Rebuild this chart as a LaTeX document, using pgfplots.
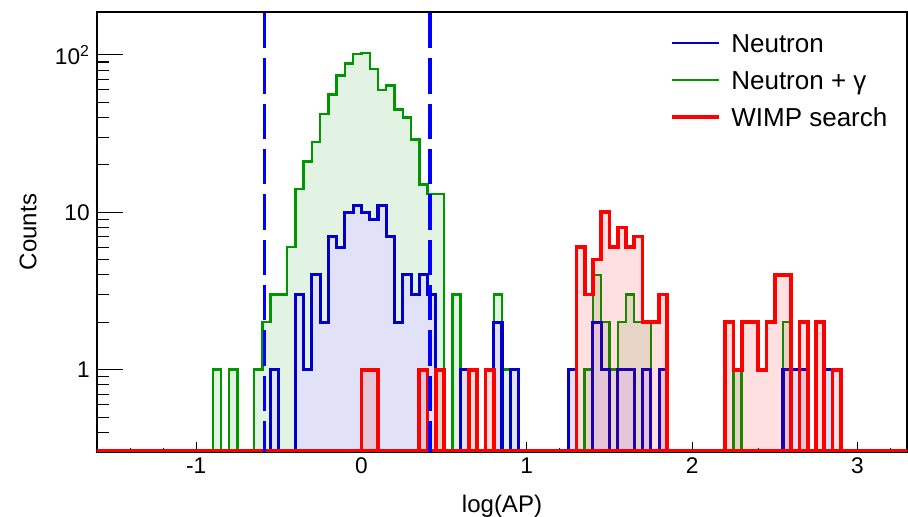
\documentclass[border=0pt]{standalone}
\usepackage{fontspec}
\setmainfont{Liberation Sans}
\usepackage{pgfplots}
\pgfplotsset{compat=1.18}
\definecolor{hblue}{RGB}{0,0,200}
\definecolor{hgreen}{RGB}{0,150,0}
\definecolor{hred}{RGB}{255,0,0}
\definecolor{gfill}{RGB}{227,243,227}
\definecolor{bfill}{RGB}{225,226,247}
\definecolor{dblue}{RGB}{0,0,255}

\begin{document}
\begin{tikzpicture}
\begin{axis}[
  at={(72.75pt,48.75pt)}, anchor=south west,
  scale only axis, width=607.5pt, height=330pt,
  ymode=log, xmin=-1.6, xmax=3.3, ymin=0.3, ymax=187,
  axis line style={black, line width=1pt},
  tick align=inside, xtick pos=bottom, ytick pos=left,
  xtick={-1,0,1,2,3}, xticklabels={-1,0,1,2,3},
  minor xtick={-1.4,-1.2,-0.8,-0.6,-0.4,-0.2,0.2,0.4,0.6,0.8,1.2,1.4,1.6,1.8,2.2,2.4,2.6,2.8,3.2},
  ytick={1,10,100}, yticklabels={1,10,10\textsuperscript{2}},
  minor ytick={0.3,0.4,0.5,0.6,0.7,0.8,0.9,2,3,4,5,6,7,8,9,20,30,40,50,60,70,80,90},
  xtick style={/pgfplots/major tick length=7.5pt, /pgfplots/minor tick length=2.8pt, black, line width=0.8pt},
  ytick style={/pgfplots/major tick length=19.5pt, /pgfplots/minor tick length=9pt, black, line width=0.8pt},
  ticklabel style={font=\fontsize{17}{20}\selectfont},
  yticklabel style={xshift=-2pt},
  xticklabel style={yshift=-1pt},
  xlabel={log(AP)}, ylabel={Counts},
  label style={font=\fontsize{18}{21}\selectfont},
  xlabel style={at={(axis description cs:0.5,-0.124)}, anchor=center},
  ylabel style={at={(axis description cs:-0.085,0.5)}, anchor=center},
  legend style={at={(axis description cs:0.7074,0.9545)}, anchor=north west,
    draw=none, fill=none, inner sep=0pt, outer sep=0pt, row sep=7.75pt, column sep=8pt,
    font=\fontsize{19.5}{22}\selectfont,
    nodes={inner sep=0pt, text height=15pt, text depth=5pt, anchor=base west}},
  legend cell align=left,
  legend image code/.code={\draw[#1] (0pt,6.5pt) -- (35pt,6.5pt);},
]
\addlegendimage{hblue, line width=1.7pt}
\addlegendentry{Neutron}
\addlegendimage{hgreen, line width=1.7pt}
\addlegendentry{Neutron + γ}
\addlegendimage{hred, line width=3pt}
\addlegendentry{WIMP search}

% Neutron + gamma
\addplot[const plot, draw=hgreen, line width=1.8pt, fill=gfill, forget plot] coordinates {
(-1.6,0.305) (-0.9,1) (-0.85,0.305) (-0.8,1) (-0.75,0.305) (-0.65,1) (-0.6,2)
(-0.55,3) (-0.5,3) (-0.45,6) (-0.4,14) (-0.35,21) (-0.3,28) (-0.25,42) (-0.2,56)
(-0.15,74) (-0.1,88) (-0.05,101) (0,103) (0.05,81) (0.1,60) (0.15,64) (0.2,45)
(0.25,40) (0.3,29) (0.35,15) (0.4,13) (0.45,13) (0.5,0.305) (0.55,3) (0.6,1)
(0.65,0.305) (0.8,3) (0.85,1) (0.95,0.305) (1.25,1) (1.3,0.305) (1.35,1) (1.4,4)
(1.45,2) (1.5,1) (1.55,2) (1.6,3) (1.65,2) (1.75,0.305) (1.8,1) (1.85,0.305)
(2.25,1) (2.3,0.305) (2.55,2) (2.6,1) (2.7,0.305) (2.8,1) (2.85,0.305) (3.3,0.305)
} -- cycle;

% Neutron
\addplot[const plot, draw=hblue, line width=2.3pt, fill=bfill, forget plot] coordinates {
(-1.6,0.305) (-0.55,1) (-0.5,0.305) (-0.4,3) (-0.35,1) (-0.3,4) (-0.25,2) (-0.2,7)
(-0.15,6) (-0.1,10) (-0.05,11) (0,10) (0.05,9) (0.1,11) (0.15,7) (0.2,2) (0.25,4)
(0.3,3) (0.35,4) (0.4,3) (0.45,0.305) (0.6,1) (0.65,0.305) (0.8,2) (0.85,0.305)
(0.9,1) (0.95,0.305) (1.25,1) (1.3,0.305) (1.4,2) (1.45,1) (1.5,0.305) (1.55,1)
(1.65,0.305) (1.7,1) (1.75,0.305) (1.8,1) (1.85,0.305) (2.55,1) (2.7,0.305)
(2.8,1) (2.85,0.305) (3.3,0.305)
} -- cycle;

% WIMP search
\addplot[const plot, draw=hred, line width=2.8pt, fill=hred, fill opacity=0.12, draw opacity=1, forget plot] coordinates {
(-1.6,0.305) (0,1) (0.1,0.305) (0.35,1) (0.4,0.305) (0.45,1) (0.5,0.305) (0.65,1)
(0.7,0.305) (0.75,1) (0.8,0.305) (1.3,6) (1.35,3) (1.4,5) (1.45,10) (1.5,6)
(1.55,8) (1.6,6) (1.65,7) (1.7,2) (1.8,3) (1.85,0.305) (2.2,2) (2.25,1) (2.3,2)
(2.4,1) (2.45,2) (2.5,4) (2.6,0.305) (2.65,2) (2.7,0.305) (2.75,2) (2.8,0.305)
(2.85,1) (2.9,0.305) (3.3,0.305)
} -- cycle;

\draw[dblue, line width=2.8pt, dash pattern=on 26.5pt off 7.5pt] (axis cs:-0.587,184) -- (axis cs:-0.587,0.3);
\draw[dblue, line width=2.8pt, dash pattern=on 26.5pt off 7.5pt] (axis cs:0.415,184) -- (axis cs:0.415,0.3);
\end{axis}
\pgfresetboundingbox
\path (0,0) rectangle (681pt,387.75pt);
\end{tikzpicture}
\end{document}
